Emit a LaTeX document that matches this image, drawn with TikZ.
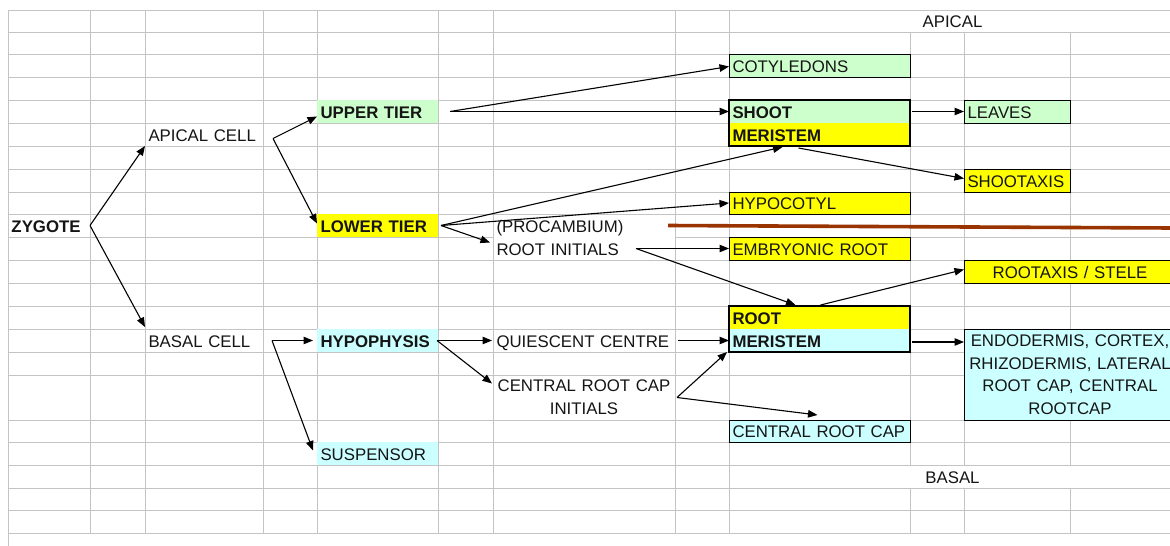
\documentclass[tikz,border=0pt]{standalone}
\usepackage{fontspec}
\setmainfont{Liberation Sans}
\usetikzlibrary{arrows.meta,calc,fit}
\definecolor{gridc}{HTML}{C4C4C4}
\definecolor{xgreen}{HTML}{CCFFCC}
\definecolor{xyellow}{HTML}{FFFF00}
\definecolor{xcyan}{HTML}{CCFFFF}
\definecolor{xbrown}{HTML}{993300}
\definecolor{txt}{HTML}{151515}
\newcommand\fsz{\fontsize{16.8pt}{22.5pt}\selectfont}
\begin{document}
\begin{tikzpicture}[x=1pt,y=-1pt,
  cell/.style={anchor=north west, inner xsep=3.5pt, inner ysep=0pt, outer sep=0pt, align=left, text height=13pt, text depth=0pt, font=\fsz, text=txt},
  mcell/.style={anchor=north west, inner xsep=3pt, inner ysep=0pt, outer sep=0pt, align=center, font=\fsz, text=txt},
  gbox/.style={fill=xgreen}, ybox/.style={fill=xyellow}, cbox/.style={fill=xcyan},
  framed/.style={draw=black, line width=1pt},
  meri/.style={draw=black, line width=2pt, inner sep=0pt, outer sep=0pt},
  arr/.style={-{Triangle[length=9.5pt,width=7.5pt]}, line width=1.1pt, black},
  gridline/.style={draw=gridc, line width=0.9pt}]
\useasboundingbox (0,0) rectangle (1170,546);
\fill[white] (0,0) rectangle (1170,546);
% grid
\foreach \y in {10,32,54,77,100,123,146,169,192,214,260,283,306,329,352,375,420,442,465,488,510,533}
  \draw[gridline] (8,\y) -- (1170,\y);
\draw[gridline] (8,237) -- (493,237);
\draw[gridline] (675,237) -- (1170,237);
\draw[gridline] (8,10) -- (8,546);
\foreach \x in {90,145,263,317,438,493,675,729}
  \draw[gridline] (\x,10) -- (\x,533);
\foreach \x in {910,964,1070}{
  \draw[gridline] (\x,32) -- (\x,465);
  \draw[gridline] (\x,488) -- (\x,533);}
% cells
\node[cell, font=\fsz\bfseries, minimum width=82pt, text width=75pt, minimum height=23pt] (zyg) at (8,214) {ZYGOTE};
\node[cell, minimum width=118pt, text width=111pt, minimum height=23pt] (apc) at (145,123) {APICAL CELL};
\node[cell, minimum width=118pt, text width=111pt, minimum height=23pt] (bas) at (145,329) {BASAL CELL};
\node[cell, gbox, font=\fsz\bfseries, minimum width=121pt, text width=114pt, minimum height=23pt] (upper) at (317,100) {UPPER TIER};
\node[cell, ybox, font=\fsz\bfseries, minimum width=121pt, text width=114pt, minimum height=23pt] (lower) at (317,214) {LOWER TIER};
\node[cell, cbox, font=\fsz\bfseries, minimum width=121pt, text width=114pt, minimum height=23pt] (hypo) at (317,329) {HYPOPHYSIS};
\node[cell, cbox, minimum width=121pt, text width=114pt, minimum height=23pt] (susp) at (317,442) {SUSPENSOR};
\node[cell, minimum width=182pt, text width=175pt, minimum height=23pt] (procamb) at (493,214) {(PROCAMBIUM)};
\node[cell, minimum width=182pt, text width=175pt, minimum height=23pt] (rootini) at (493,237) {ROOT INITIALS};
\node[cell, minimum width=182pt, text width=175pt, minimum height=23pt] (quies) at (493,329) {QUIESCENT CENTRE};
\node[mcell, font=\fontsize{16.8pt}{23pt}\selectfont, minimum width=182pt, text width=176pt, minimum height=45pt] (crci) at (493,375) {CENTRAL ROOT CAP\\INITIALS};
\node[cell, gbox, framed, minimum width=181pt, text width=174pt, minimum height=23pt] (coty) at (729,54) {COTYLEDONS};
\node[cell, gbox, font=\fsz\bfseries, minimum width=181pt, text width=174pt, minimum height=23pt] (smtop) at (729,100) {SHOOT};
\node[cell, ybox, font=\fsz\bfseries, minimum width=181pt, text width=174pt, minimum height=23pt] (smbot) at (729,123) {MERISTEM};
\node[meri, fit=(smtop)(smbot)] (sm) {};
\node[cell, gbox, framed, minimum width=106pt, text width=99pt, minimum height=23pt] (leaves) at (964,100) {LEAVES};
\node[cell, ybox, framed, minimum width=106pt, text width=99pt, minimum height=23pt] (shootax) at (964,169) {SHOOTAXIS};
\node[cell, ybox, framed, minimum width=181pt, text width=174pt, minimum height=22pt] (hypoc) at (729,192) {HYPOCOTYL};
\node[cell, ybox, framed, minimum width=181pt, text width=174pt, minimum height=23pt] (embr) at (729,237) {EMBRYONIC ROOT};
\node[cell, ybox, framed, align=center, minimum width=212pt, text width=205pt, minimum height=23pt] (rootax) at (964,260) {ROOTAXIS / STELE};
\node[cell, ybox, font=\fsz\bfseries, minimum width=181pt, text width=174pt, minimum height=23pt] (rmtop) at (729,306) {ROOT};
\node[cell, cbox, font=\fsz\bfseries, minimum width=181pt, text width=174pt, minimum height=23pt] (rmbot) at (729,329) {MERISTEM};
\node[meri, fit=(rmtop)(rmbot)] (rm) {};
\node[mcell, cbox, framed, minimum width=212pt, text width=206pt, minimum height=91pt] (endo) at (964,329) {ENDODERMIS, CORTEX,\\RHIZODERMIS, LATERAL\\ROOT CAP, CENTRAL\\ROOTCAP};
\node[cell, cbox, framed, minimum width=181pt, text width=174pt, minimum height=22pt] (crc) at (729,420) {CENTRAL ROOT CAP};
\node[cell, align=center, minimum width=447pt, text width=440pt, minimum height=22pt] (apical) at (729,10) {APICAL};
\node[cell, align=center, minimum width=447pt, text width=440pt, minimum height=23pt] (basal) at (729,465) {BASAL};
% brown divider
\draw[xbrown, line width=3.6pt] (668,225.5) -- (1172,228);
% arrows
\draw[arr] (zyg.east) -- (apc.south west);
\draw[arr] (zyg.east) -- ($(bas.north west)+(0,-2)$);
\draw[arr] ($(apc.east)+(10,4)$) -- ($(upper.west)+(0,5)$);
\draw[arr] ($(apc.east)+(10,4)$) -- ($(lower.west)+(0,-2)$);
\draw[arr] ($(bas.east)+(9,0)$) -- ($(hypo.west)+(-4,0)$);
\draw[arr] ($(bas.east)+(9,0)$) -- ($(susp.west)+(-4,-3)$);
\draw[arr] ($(upper.east)+(12,0)$) -- ($(coty.west)+(0,1)$);
\draw[arr] ($(upper.east)+(12,0)$) -- (smtop.west);
\draw[arr] ($(smtop.east)+(2,0)$) -- (leaves.west);
\draw[arr] ($(lower.east)+(3,0)$) -- ($(sm.south)+(-37,1)$);
\draw[arr] ($(sm.south)+(-21,2)$) -- ($(shootax.west)+(0,-2)$);
\draw[arr] ($(lower.east)+(3,0)$) -- (hypoc.west);
\draw[arr] ($(lower.east)+(3,0)$) -- ($(rootini.west)+(-3,-6)$);
\draw[arr] ($(rootini.east)+(-39,0)$) -- (embr.west);
\draw[arr] ($(rootini.east)+(-39,0)$) -- ($(rm.north)+(-24,-1)$);
\draw[arr] ($(rm.north)+(1,-1)$) -- ($(rootax.west)+(0,-2)$);
\draw[arr] ($(rmbot.east)+(2,1.5)$) -- ($(endo.north west)+(0,13)$);
\draw[arr] ($(hypo.east)+(-1,0)$) -- ($(quies.west)+(-1,0)$);
\draw[arr] ($(hypo.east)+(-1,0)$) -- ($(crci.west)+(-1,-14)$);
\draw[arr] ($(quies.east)+(3,0)$) -- (rmbot.west);
\draw[arr] ($(crci.east)+(2,0)$) -- ($(rmbot.south west)+(-2,0)$);
\draw[arr] ($(crci.east)+(2,0)$) -- ($(crc.north)+(-2,-5)$);
\end{tikzpicture}
\end{document}
